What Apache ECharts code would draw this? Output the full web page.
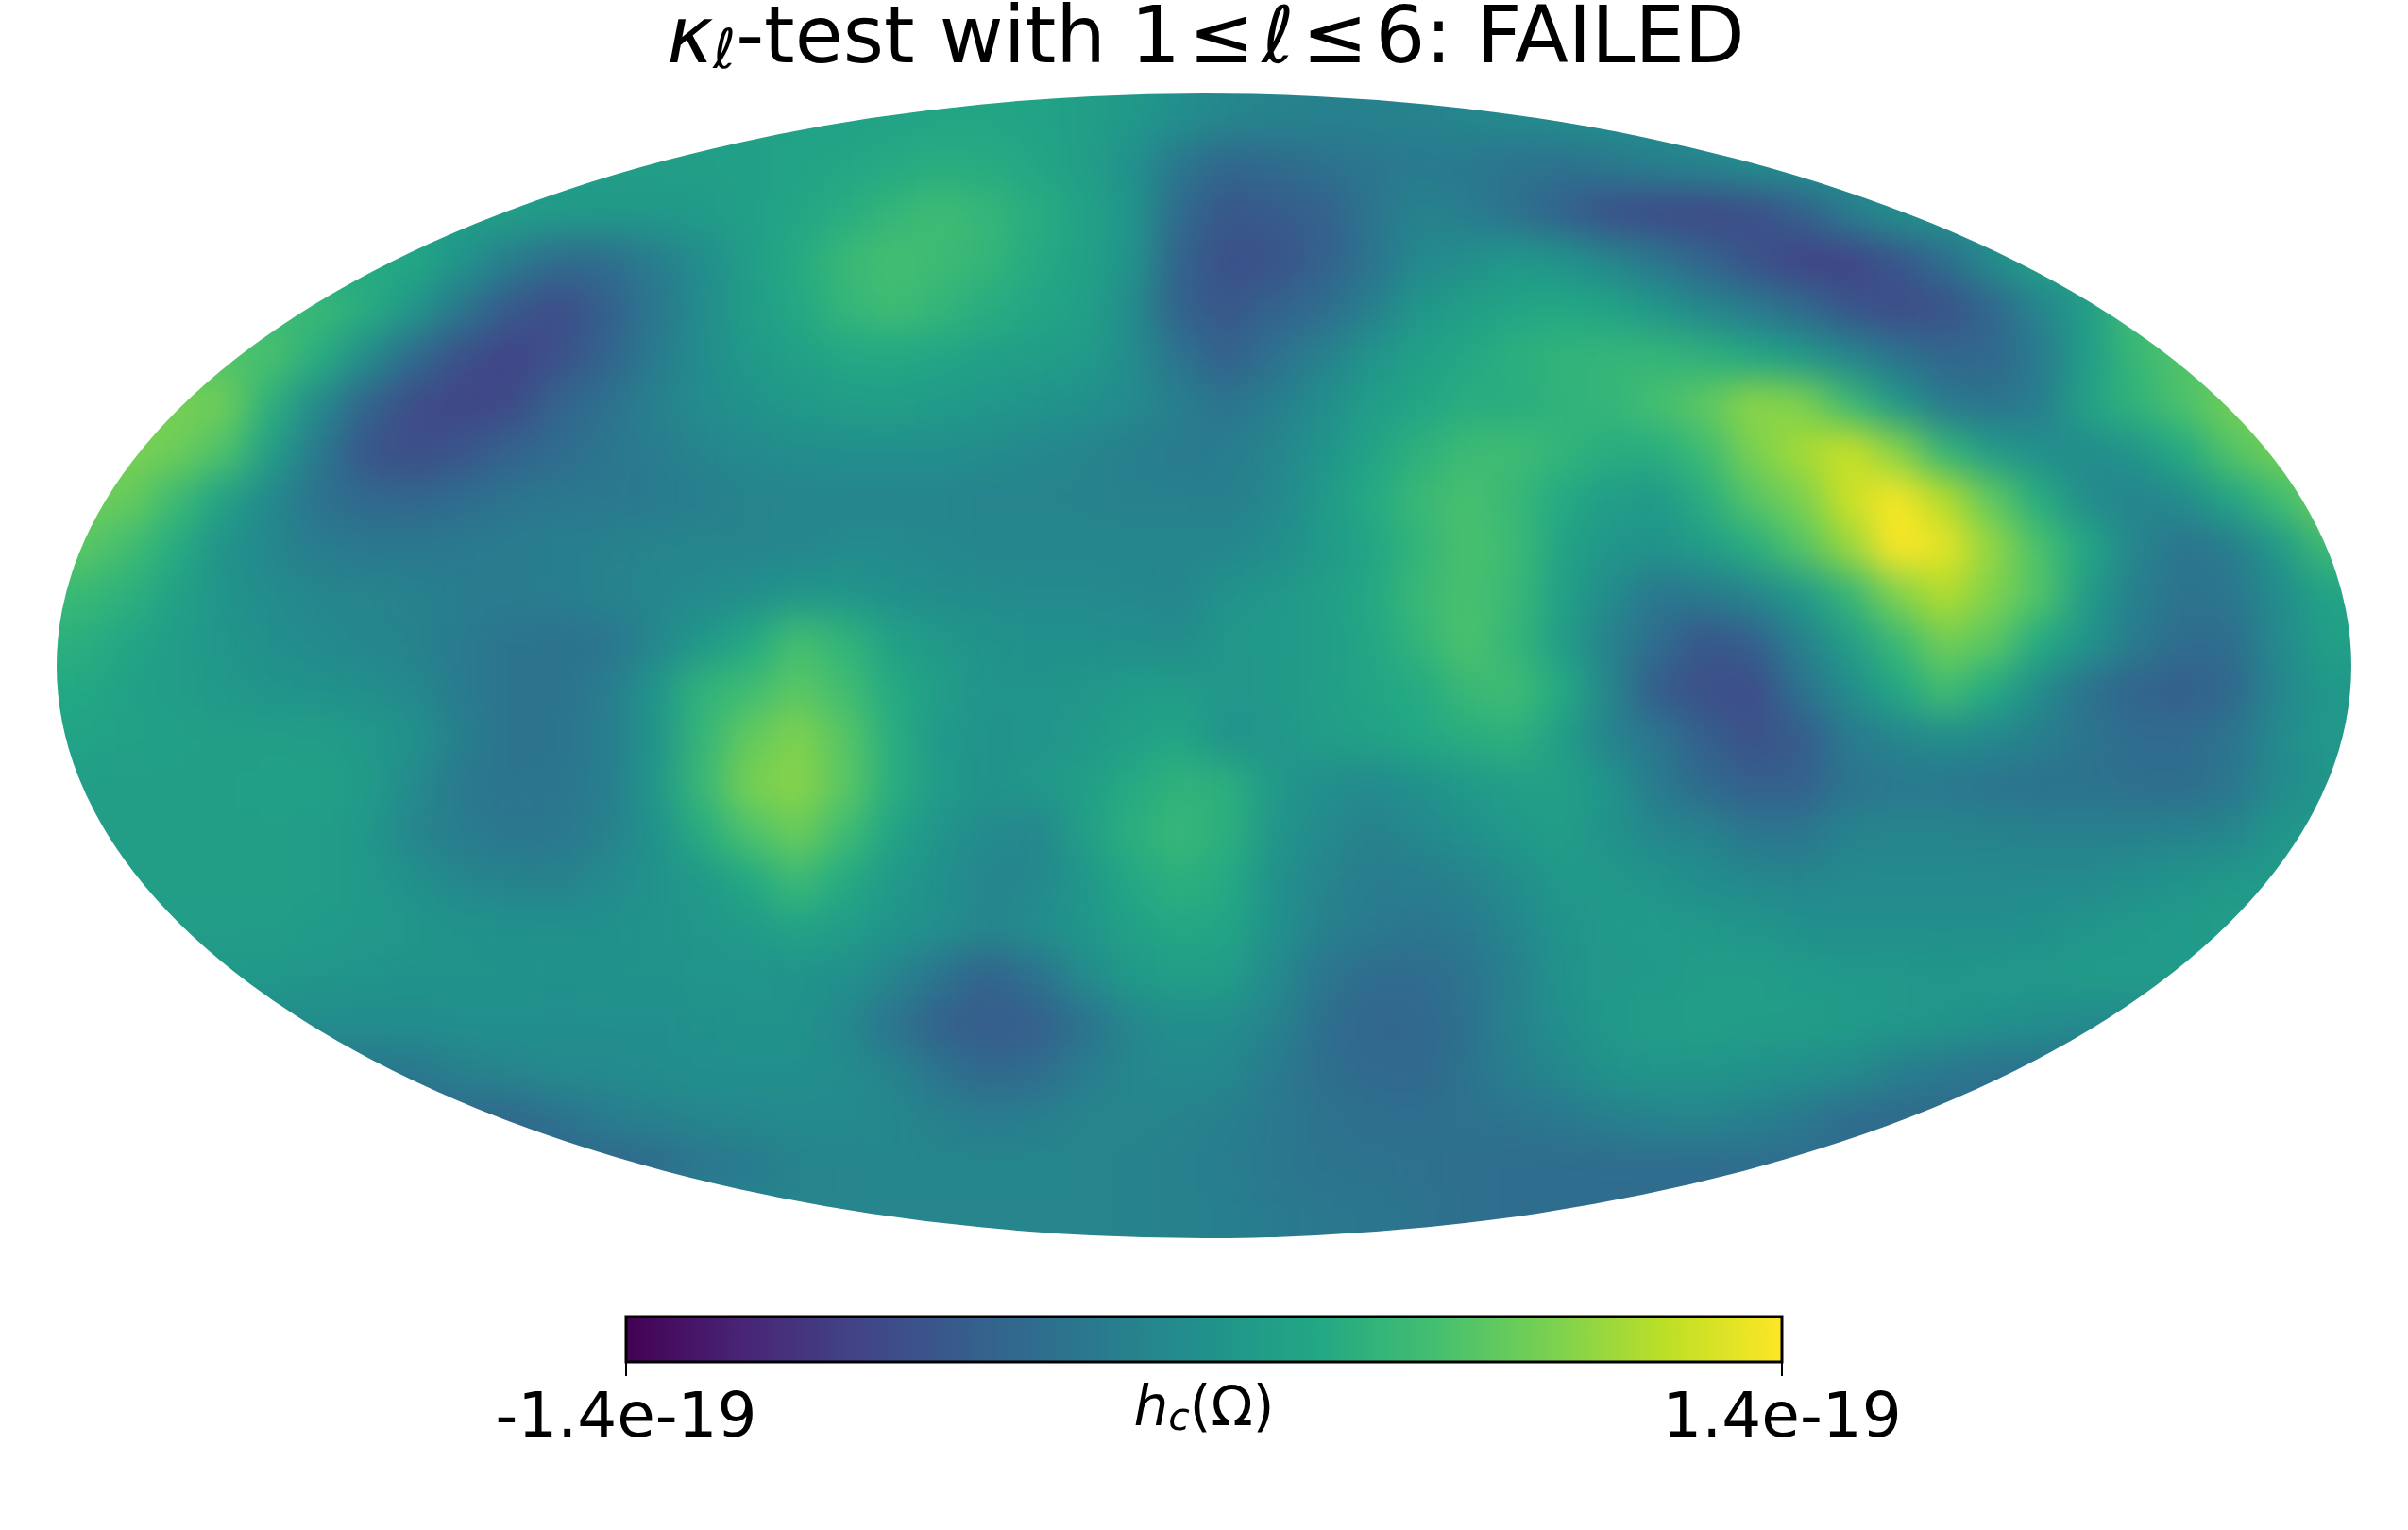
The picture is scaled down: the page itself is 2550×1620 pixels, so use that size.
<!DOCTYPE html>
<html>
<head>
<meta charset="utf-8">
<title>kappa test map</title>
<script src="https://cdn.jsdelivr.net/npm/echarts@6/dist/echarts.min.js"></script>
<style>
  html, body { margin: 0; background: #fff; }
  #page { position: relative; width: 2550px; height: 1620px; overflow: hidden; }
  #mapClip { position: absolute; left: 60px; top: 99px; width: 2430px; height: 1212px; clip-path: ellipse(50% 50%); overflow: hidden; }
  #map { position: absolute; left: -50.625px; top: -50.5px; width: 2531.25px; height: 1313px; filter: blur(19px); }
  #overlay { position: absolute; left: 0; top: 0; width: 2550px; height: 1620px; }
</style>
</head>
<body>
<div id="page">
  <div id="mapClip"><div id="map"></div></div>
  <div id="overlay"></div>
</div>
<script>
// map values, unit 1e-21, rows north to south, each row centred on the map
const mapRows = [
  [20,22,24,24,22,16,8,-2,-12,-16,-18,-18,-16,-12,-8,-4],
  [20,20,22,24,24,22,16,8,-2,-12,-16,-18,-18,-16,-12,-8,-4,-2],
  [16,16,16,18,22,26,30,34,32,26,16,0,-30,-48,-44,-36,-30,-26,-28,-34,-36,-28,-20,-14,-4,0],
  [16,16,12,10,10,12,18,24,34,44,52,44,34,22,4,-44,-64,-60,-54,-32,-16,-22,-36,-54,-72,-78,-80,-74,-56,-24,-2,4],
  [30,28,4,-22,-42,-40,-24,-4,14,30,48,56,50,44,30,20,2,-52,-72,-68,-54,-34,-10,-2,8,4,-12,-30,-50,-70,-84,-84,-66,-40,-6,20],
  [50,48,34,6,-30,-62,-76,-56,-30,-6,14,28,44,52,44,34,26,18,-6,-54,-64,-52,-42,-20,6,16,24,28,22,6,-12,-26,-44,-66,-76,-70,-48,-14,14,54],
  [62,62,58,34,-4,-44,-72,-84,-72,-52,-26,-4,10,18,28,28,26,18,16,12,-6,-34,-54,-36,-18,4,18,28,36,42,44,44,38,26,10,-12,-34,-48,-46,-26,14,46,64,64],
  [82,82,78,36,-8,-50,-76,-82,-78,-50,-36,-18,-6,2,10,14,16,12,8,4,0,-8,-20,-34,-20,-4,14,24,34,34,40,44,56,70,92,86,50,10,-26,-34,-22,22,40,60,80,80],
  [84,84,78,60,14,-28,-66,-76,-66,-52,-42,-30,-24,-14,-8,-4,-2,-2,-2,-6,-10,-14,-20,-26,-22,-14,4,22,38,50,52,42,34,34,52,84,102,118,90,44,12,-2,-6,6,30,64,80,80],
  [78,74,50,18,-10,-36,-46,-48,-40,-32,-28,-28,-26,-20,-16,-14,-14,-14,-14,-16,-16,-16,-18,-18,-20,-10,10,30,48,58,46,30,14,10,34,66,84,118,138,108,70,32,-6,-16,-6,24,52,80],
  [68,68,54,32,2,-12,-24,-28,-28,-26,-24,-20,-18,-14,-14,-14,-12,-8,-8,-10,-12,-12,-12,-12,-12,-12,-4,10,24,42,58,50,22,6,2,14,34,64,96,140,130,94,58,26,-14,-32,-24,10,50,50],
  [47,47,38,20,4,-6,-12,-14,-18,-22,-24,-22,-16,-12,-8,-2,6,6,0,-4,-6,-8,-8,-10,-12,2,8,16,28,48,58,48,18,-6,-30,-26,-14,8,44,86,108,86,62,12,-20,-34,-30,-6,22,26],
  [36,36,26,14,6,-2,-8,-12,-16,-26,-32,-34,-32,-12,8,28,56,42,20,10,2,0,0,-2,-6,8,10,14,26,42,60,44,14,-18,-40,-66,-56,-18,14,48,80,68,30,4,-26,-42,-40,-8,16,18],
  [28,28,20,14,10,4,2,-2,-10,-26,-32,-34,-24,4,40,52,68,54,30,14,4,4,6,12,14,6,10,16,24,30,48,52,30,-14,-60,-72,-76,-36,-6,26,54,30,-6,-36,-50,-56,-46,-12,8,10],
  [22,22,20,18,16,16,14,10,0,-20,-34,-32,-22,2,44,72,86,66,34,8,2,4,10,18,26,2,6,14,20,28,34,38,16,-16,-30,-56,-70,-60,-26,-14,-4,-10,-20,-32,-42,-42,-32,-8,8,8],
  [16,16,16,16,16,18,18,12,-8,-28,-32,-30,-22,6,46,82,90,68,34,12,2,8,16,30,40,36,8,-2,-8,0,10,16,18,4,-26,-44,-56,-54,-32,-28,-28,-32,-36,-34,-38,-40,-30,-8,6,6],
  [16,16,16,16,16,14,8,-14,-24,-30,-28,-18,0,32,60,76,52,22,4,-8,-12,16,36,46,36,6,-8,-18,-10,0,10,14,2,-12,-16,-30,-30,-16,-14,-14,-16,-18,-18,-18,-16,-12,6,10],
  [16,16,16,16,16,14,10,0,-12,-16,-18,-8,2,10,28,50,30,10,0,-14,-10,6,28,38,30,0,-14,-24,-22,-16,-4,10,10,4,-4,-10,-12,-8,-8,-8,-8,-8,-8,-2,4,10,12,12],
  [14,14,14,14,12,10,6,2,0,0,0,2,6,12,22,14,4,-2,-14,-4,6,20,28,24,0,-18,-26,-30,-26,-12,4,10,12,8,6,0,-2,-2,-2,-2,0,6,10,12,14,14],
  [10,10,8,6,4,2,2,2,0,2,2,4,4,2,0,-14,-34,-52,-36,-8,10,16,14,-8,-30,-42,-42,-34,-18,2,8,10,14,14,12,10,8,6,10,10,12,12,12,12],
  [-6,-6,-6,-4,-2,-2,-2,-2,-2,0,2,2,-10,-32,-54,-60,-56,-36,-12,-2,-4,-16,-38,-48,-46,-36,-16,-2,10,14,16,14,14,12,8,6,0,-4,-8,-8],
  [-28,-28,-18,-14,-8,-8,-4,-2,-2,-2,-6,-16,-34,-46,-42,-24,-12,-8,-10,-26,-38,-44,-46,-34,-20,-10,2,6,6,2,-2,-6,-20,-28,-34,-34],
  [-46,-46,-36,-24,-18,-14,-10,-8,-8,-10,-18,-24,-20,-14,-14,-16,-20,-28,-34,-38,-38,-36,-32,-28,-20,-16,-14,-20,-28,-42,-44,-44],
  [-48,-44,-30,-26,-16,-14,-12,-12,-12,-12,-14,-16,-18,-22,-28,-32,-34,-36,-38,-40,-42,-42,-42,-42,-40,-40],
  [-14,-14,-14,-14,-14,-14,-14,-16,-18,-20,-26,-28,-30,-34,-38,-40,-40,-40],
  [-14,-14,-14,-14,-14,-14,-16,-18,-20,-26,-28,-30,-34,-38,-40,-40]
];
const colCount = 50;
const viridis = ['#440154', '#482475', '#414487', '#355f8d', '#2a788e', '#21918c', '#22a884', '#44bf70', '#7ad151', '#bddf26', '#fde725'];
const scaleMin = -140;
const scaleMax = 140;
const tickLabels = { '-140': '-1.4e-19', '140': '1.4e-19' };
const fontFamily = '"DejaVu Sans"';

const cells = [];
mapRows.forEach((row, j) => {
  const offset = (colCount - row.length) / 2;
  row.forEach((v, i) => cells.push([i + offset, j, v]));
  // edge value carried past the clip so the blur does not pull in white
  for (let k = 1; k <= 4; k++) {
    if (offset - k >= 0) cells.push([offset - k, j, row[0]]);
    if (offset + row.length - 1 + k < colCount) cells.push([offset + row.length - 1 + k, j, row[row.length - 1]]);
  }
});

const mapChart = echarts.init(document.getElementById('map'));
mapChart.setOption({
  animation: false,
  grid: { left: 0, right: 0, top: 0, bottom: 0 },
  xAxis: { type: 'category', show: false, data: Array.from({ length: colCount }, (_, i) => i) },
  yAxis: { type: 'category', show: false, inverse: true, data: mapRows.map((_, j) => j) },
  visualMap: { show: false, min: scaleMin, max: scaleMax, inRange: { color: viridis } },
  series: [{ type: 'heatmap', data: cells, progressive: 0, silent: true }]
});

const overlay = echarts.init(document.getElementById('overlay'));
overlay.setOption({
  animation: false,
  textStyle: { fontFamily },
  title: {
    left: 1272,
    top: -2,
    textAlign: 'center',
    text: '{i|κ}{sub|ℓ}{n|-test with 1\u200a≤\u200a}{i|ℓ}{n|\u200a≤\u200a6: FAILED}',
    textStyle: {
      fontFamily,
      fontWeight: 'normal',
      fontSize: 83,
      rich: {
        n: { fontFamily, fontSize: 83, color: '#000' },
        i: { fontFamily, fontSize: 83, fontStyle: 'italic', color: '#000' },
        sub: { fontFamily, fontSize: 58, fontStyle: 'italic', color: '#000', verticalAlign: 'bottom', padding: [24, 0, 0, 0] }
      }
    }
  },
  grid: { left: 663, top: 1394, width: 1224, height: 48, show: true, borderColor: '#000', borderWidth: 3, backgroundColor: 'transparent', z: 3 },
  xAxis: {
    type: 'value',
    min: scaleMin,
    max: scaleMax,
    splitLine: { show: false },
    axisLine: { show: false },
    axisTick: { show: true, length: 15, customValues: [scaleMin, scaleMax], lineStyle: { color: '#000', width: 2 } },
    axisLabel: {
      customValues: [scaleMin, scaleMax],
      margin: 29,
      fontFamily,
      fontSize: 66,
      color: '#000',
      formatter: (v) => tickLabels[v]
    },
    name: '{h|h}{c|c}{n|(Ω)}',
    nameLocation: 'middle',
    nameMoveOverlap: false,
    nameGap: 21,
    nameTextStyle: {
      rich: {
        h: { fontFamily, fontSize: 58, fontStyle: 'italic', color: '#000' },
        c: { fontFamily, fontSize: 41, fontStyle: 'italic', color: '#000', verticalAlign: 'bottom', padding: [20, 0, 0, 0] },
        n: { fontFamily, fontSize: 58, color: '#000' }
      }
    }
  },
  yAxis: { type: 'value', show: false, min: 0, max: 1 },
  visualMap: {
    type: 'continuous',
    orient: 'horizontal',
    left: 663,
    top: 1394,
    padding: 0,
    itemWidth: 48,
    itemHeight: 1224,
    min: scaleMin,
    max: scaleMax,
    text: null,
    showLabel: false,
    calculable: false,
    hoverLink: false,
    seriesIndex: 0,
    z: 2,
    inRange: { color: viridis }
  },
  series: [{ type: 'scatter', data: [], silent: true }]
});
</script>
</body>
</html>
